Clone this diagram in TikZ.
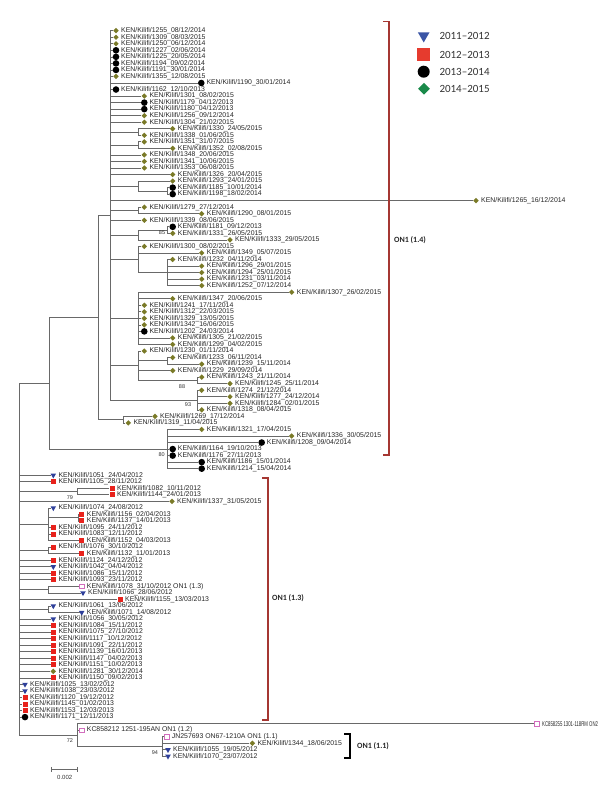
\documentclass[tikz,border=0pt]{standalone}
\usepackage{fontspec}
\setmainfont{Liberation Sans}
\newfontfamily\legfont{Carlito}
\usetikzlibrary{shapes.geometric,calc}
\definecolor{olv}{RGB}{122,122,40}
\definecolor{rsq}{RGB}{232,34,28}
\definecolor{btri}{RGB}{46,63,154}
\definecolor{pnk}{RGB}{210,110,190}
\definecolor{brk}{RGB}{165,55,50}
\definecolor{lgreen}{RGB}{26,138,74}
\definecolor{lblue}{RGB}{58,85,165}
\definecolor{lred}{RGB}{230,59,46}
\definecolor{brc}{RGB}{105,105,105}
\newcommand\ry[1]{30.7+6.537*#1}
\newcommand\tk[5]{\node[m#4] (t#1) at (#2,{\ry{#3}}) {}; \node[lbl] (l#1) at ([xshift=5pt]t#1.center) {KEN/Kilifi/#1\_#5};}
\newcommand\tq[5]{\node[m#4] (t#1) at (#2,{\ry{#3}}) {}; \node[lbl] (l#1) at ([xshift=5pt]t#1.center) {#5};}
\newcommand\kids[2]{\foreach \c in {#2} {\draw[br] (#1) |- (\c);}}
\begin{document}
\begin{tikzpicture}[x=1pt,y=-1pt,
 br/.style={draw=brc,line width=0.7pt},
 lbl/.style={font=\fontsize{6.9}{7}\selectfont,inner sep=0pt,anchor=west,text=black!85},
 mD/.style={diamond,fill=olv,inner sep=0pt,minimum size=5.6pt},
 mC/.style={circle,fill=black,inner sep=0pt,minimum size=6.6pt},
 mS/.style={rectangle,fill=rsq,inner sep=0pt,minimum size=5pt},
 mT/.style={regular polygon,regular polygon sides=3,shape border rotate=180,fill=btri,inner sep=0pt,minimum size=6.4pt},
 mP/.style={rectangle,draw=pnk,fill=white,line width=0.5pt,inner sep=0pt,minimum size=4.6pt},
 bs/.style={font=\fontsize{5.5}{6}\selectfont,inner sep=0pt,text=black!80},
 bk/.style={draw=brk,line width=1.1pt},
 cl/.style={font={\legfont\fontsize{8}{9}\selectfont\bfseries},inner sep=0pt,anchor=west,text=black!85},
 lg/.style={font={\legfont\fontsize{11}{12}\selectfont},inner sep=0pt,anchor=west,text=black!80}]
\useasboundingbox (0,0) rectangle (600,788);
% ---- tips ON1 (1.4)
\tk{1255}{116}{0}{D}{08/12/2014}
\tk{1309}{116}{1}{D}{08/03/2015}
\tk{1250}{116}{2}{D}{06/12/2014}
\tk{1227}{116}{3}{C}{02/06/2014}
\tk{1225}{116}{4}{C}{20/05/2014}
\tk{1194}{116}{5}{C}{09/02/2014}
\tk{1191}{116}{6}{C}{30/01/2014}
\tk{1355}{116}{7}{D}{12/08/2015}
\tk{1190}{201.3}{8}{C}{30/01/2014}
\tk{1162}{116}{9}{C}{12/10/2013}
\tk{1301}{144.3}{10}{D}{08/02/2015}
\tk{1179}{144.3}{11}{C}{04/12/2013}
\tk{1180}{144.3}{12}{C}{04/12/2013}
\tk{1256}{144.3}{13}{D}{09/12/2014}
\tk{1304}{144.3}{14}{D}{21/02/2015}
\tk{1330}{172.7}{15}{D}{24/05/2015}
\tk{1338}{144.3}{16}{D}{01/06/2015}
\tk{1351}{144.3}{17}{D}{31/07/2015}
\tk{1352}{172.7}{18}{D}{02/08/2015}
\tk{1348}{144.3}{19}{D}{20/06/2015}
\tk{1341}{144.3}{20}{D}{10/06/2015}
\tk{1353}{144.3}{21}{D}{06/08/2015}
\tk{1326}{172.7}{22}{D}{20/04/2015}
\tk{1293}{172.7}{23}{D}{24/01/2015}
\tk{1185}{172.7}{24}{C}{10/01/2014}
\tk{1198}{172.7}{25}{C}{18/02/2014}
\tk{1265}{476}{26}{D}{16/12/2014}
\tk{1279}{144.3}{27}{D}{27/12/2014}
\tk{1290}{201.7}{28}{D}{08/01/2015}
\tk{1339}{144.3}{29}{D}{08/06/2015}
\tk{1181}{172.7}{30}{C}{09/12/2013}
\tk{1331}{172.7}{31}{D}{26/05/2015}
\tk{1333}{230}{32}{D}{29/05/2015}
\tk{1300}{144.3}{33}{D}{08/02/2015}
\tk{1349}{201.7}{34}{D}{05/07/2015}
\tk{1232}{172.7}{35}{D}{04/11/2014}
\tk{1296}{201.7}{36}{D}{29/01/2015}
\tk{1294}{201.7}{37}{D}{25/01/2015}
\tk{1231}{201.7}{38}{D}{03/11/2014}
\tk{1252}{201.7}{39}{D}{07/12/2014}
\tk{1307}{291.7}{40}{D}{26/02/2015}
\tk{1347}{172.7}{41}{D}{20/06/2015}
\tk{1241}{144.3}{42}{D}{17/11/2014}
\tk{1312}{144.3}{43}{D}{22/03/2015}
\tk{1329}{144.3}{44}{D}{13/05/2015}
\tk{1342}{144.3}{45}{D}{16/06/2015}
\tk{1202}{144.3}{46}{C}{24/03/2014}
\tk{1305}{172.7}{47}{D}{21/02/2015}
\tk{1299}{172.7}{48}{D}{04/02/2015}
\tk{1230}{144.3}{49}{D}{01/11/2014}
\tk{1233}{172.7}{50}{D}{06/11/2014}
\tk{1239}{201.7}{51}{D}{15/11/2014}
\tk{1229}{172.7}{52}{D}{29/09/2014}
\tk{1243}{201.7}{53}{D}{21/11/2014}
\tk{1245}{230}{54}{D}{25/11/2014}
\tk{1274}{201.7}{55}{D}{21/12/2014}
\tk{1277}{230}{56}{D}{24/12/2014}
\tk{1284}{230}{57}{D}{02/01/2015}
\tk{1318}{201.7}{58}{D}{08/04/2015}
\tk{1269}{155}{59}{D}{17/12/2014}
\tk{1319}{128.3}{60}{D}{11/04/2015}
\tk{1321}{201.7}{61}{D}{17/04/2015}
\tk{1336}{291.7}{62}{D}{30/05/2015}
\tk{1208}{261.7}{63}{C}{09/04/2014}
\tk{1164}{172.7}{64}{C}{19/10/2013}
\tk{1176}{172.7}{65}{C}{27/11/2013}
\tk{1186}{201.7}{66}{C}{15/01/2014}
\tk{1214}{201.7}{67}{C}{15/04/2014}
% ---- tips ON1 (1.3)
\tk{1051}{53.3}{68}{T}{24/04/2012}
\tk{1105}{53.3}{69}{S}{28/11/2012}
\tk{1082}{112}{70}{S}{10/11/2012}
\tk{1144}{112}{71}{S}{24/01/2013}
\tk{1337}{172}{72}{D}{31/05/2015}
\tk{1074}{53.3}{73}{T}{24/08/2012}
\tk{1156}{81.7}{74}{S}{02/04/2013}
\tk{1137}{81.7}{75}{S}{14/01/2013}
\tk{1095}{53.3}{76}{S}{24/11/2012}
\tk{1083}{53.3}{77}{S}{12/11/2012}
\tk{1152}{81.7}{78}{S}{04/03/2013}
\tk{1076}{53.3}{79}{S}{30/10/2012}
\tk{1132}{81.7}{80}{S}{11/01/2013}
\tk{1124}{53.3}{81}{S}{24/12/2012}
\tk{1042}{53.3}{82}{T}{04/04/2012}
\tk{1086}{53.3}{83}{S}{15/11/2012}
\tk{1093}{53.3}{84}{S}{23/11/2012}
\tq{1078}{81.7}{85}{P}{KEN/Kilifi/1078\_31/10/2012 ON1 (1.3)}
\tk{1066}{83}{86}{T}{28/06/2012}
\tk{1155}{120}{87}{S}{13/03/2013}
\tk{1061}{53.3}{88}{T}{13/06/2012}
\tk{1071}{81.7}{89}{T}{14/08/2012}
\tk{1056}{53.3}{90}{T}{30/05/2012}
\tk{1084}{53.3}{91}{S}{15/11/2012}
\tk{1075}{53.3}{92}{S}{27/10/2012}
\tk{1117}{53.3}{93}{S}{10/12/2012}
\tk{1091}{53.3}{94}{S}{22/11/2012}
\tk{1139}{53.3}{95}{S}{16/01/2013}
\tk{1147}{53.3}{96}{S}{04/02/2013}
\tk{1151}{53.3}{97}{S}{10/02/2013}
\tk{1281}{53.3}{98}{D}{30/12/2014}
\tk{1150}{53.3}{99}{S}{09/02/2013}
\tk{1025}{25}{100}{T}{13/02/2012}
\tk{1038}{25}{101}{T}{23/03/2012}
\tk{1120}{25}{102}{S}{19/12/2012}
\tk{1145}{25}{103}{S}{01/02/2013}
\tk{1153}{25}{104}{S}{12/03/2013}
\tk{1171}{25}{105}{C}{12/11/2013}
% ---- references and ON1 (1.1)
\tq{ON2}{537}{106}{P}{\scalebox{0.62}[1]{KC858255 1301-118RM ON2}}
\tq{KC}{81.7}{107}{P}{KC858212 1251-195AN ON1 (1.2)}
\tq{JN}{166.7}{108}{P}{JN257693 ON67-1210A ON1 (1.1)}
\tk{1344}{252.3}{109}{D}{18/06/2015}
\tk{1055}{168}{110}{T}{19/05/2012}
\tk{1070}{168}{111}{T}{23/07/2012}
% ---- internal nodes
\coordinate (N1) at (110,{\ry{28.25}});
\coordinate (n1330) at (138,{\ry{15.5}});
\coordinate (n1351) at (138,{\ry{17.5}});
\coordinate (n1185) at (167,{\ry{24.5}});
\coordinate (n1293) at (138,{\ry{23.75}});
\coordinate (n1279) at (138,{\ry{27.5}});
\coordinate (nB) at (167,{\ry{30.5}});
\coordinate (nA) at (138,{\ry{31.25}});
\coordinate (nJ) at (167,{\ry{37}});
\coordinate (nH) at (138,{\ry{35}});
\coordinate (nL) at (138,{\ry{44}});
\coordinate (n1233) at (167,{\ry{50.5}});
\coordinate (n1243) at (197,{\ry{53.5}});
\coordinate (nM) at (138,{\ry{51.25}});
\coordinate (nD) at (197,{\ry{56.5}});
\coordinate (nP) at (123,{\ry{59.5}});
\coordinate (N2) at (98,{\ry{43.875}});
\coordinate (nQ) at (167,{\ry{64}});
\coordinate (N3) at (49,{\ry{53.9375}});
\coordinate (n1082) at (77,{\ry{70.5}});
\coordinate (n1074) at (48,{\ry{75.5}});
\coordinate (n1156) at (78,{\ry{74.5}});
\coordinate (n1076) at (48,{\ry{79.5}});
\coordinate (n1078) at (48,{\ry{85.5}});
\coordinate (n1061) at (48,{\ry{88.5}});
\coordinate (nV) at (162,{\ry{109.5}});
\coordinate (R72) at (77,{\ry{107.75}});
\coordinate (root) at (19,{\ry{80.84}});
% ---- branches
\kids{N1}{t1255,t1309,t1250,t1227,t1225,t1194,t1191,t1355,t1190,t1162,t1301,t1179,t1180,t1256,t1304,n1330,n1351,t1348,t1341,t1353,t1326,n1293,t1265,n1279,t1339,nA,nH,nL,nM,nD}
\kids{n1330}{t1330,t1338}
\kids{n1351}{t1351,t1352}
\kids{n1293}{t1293,n1185}
\kids{n1185}{t1185,t1198}
\kids{n1279}{t1279,t1290}
\kids{nA}{nB,t1333}
\kids{nB}{t1181,t1331}
\kids{nH}{t1300,t1349,nJ}
\kids{nJ}{t1232,t1296,t1294,t1231,t1252}
\kids{nL}{t1307,t1347,t1241,t1312,t1329,t1342,t1202,t1305,t1299}
\kids{nM}{t1230,n1233,t1229,n1243}
\kids{n1233}{t1233,t1239}
\kids{n1243}{t1243,t1245}
\kids{nD}{t1274,t1277,t1284,t1318}
\kids{N2}{N1,nP}
\kids{nP}{t1269,t1319}
\kids{N3}{N2,nQ}
\kids{nQ}{t1321,t1336,t1208,t1164,t1176,t1186,t1214}
\kids{root}{N3,t1051,t1105,n1082,t1337,n1074,n1076,t1124,t1042,t1086,t1093,n1078,t1155,n1061,t1056,t1084,t1075,t1117,t1091,t1139,t1147,t1151,t1281,t1150,t1025,t1038,t1120,t1145,t1153,t1171,R72}
\kids{n1082}{t1082,t1144}
\kids{n1074}{t1074,n1156,t1095,t1083,t1152}
\kids{n1156}{t1156,t1137}
\kids{n1076}{t1076,t1132}
\kids{n1078}{t1078,t1066}
\kids{n1061}{t1061,t1071}
\kids{R72}{tON2,tKC,nV}
\kids{nV}{tJN,t1344,t1055,t1070}
% ---- bootstrap values
\node[bs] (b85) at (162,232.7) {85};
\node[bs] (b88) at (182,387) {88};
\node[bs] (b93) at (188,405) {93};
\node[bs] (b80) at (161.7,455) {80};
\node[bs] (b79) at (70,498) {79};
\node[bs] (b72) at (70,741) {72};
\node[bs] (b94) at (155,753) {94};
% ---- clade brackets
\draw[bk] (383,21.7) -- (389,21.7) -- (389,455) -- (383,455);
\node[cl] (c14) at (394,240) {ON1 (1.4)};
\draw[bk] (262,478) -- (268,478) -- (268,720) -- (262,720);
\node[cl] (c13) at (272,598) {ON1 (1.3)};
\draw[draw=black,line width=1.1pt] (344,734) -- (350,734) -- (350,758) -- (344,758);
\node[cl] (c11) at (357,746) {ON1 (1.1)};
% ---- scale bar
\coordinate (sb1) at (51.7,769.3);
\coordinate (sb2) at (77.7,769.3);
\draw[br] (sb1) -- (sb2);
\draw[br] ([yshift=2.5pt]sb1) -- ([yshift=-2.5pt]sb1);
\draw[br] ([yshift=2.5pt]sb2) -- ([yshift=-2.5pt]sb2);
\node[bs,font=\fontsize{6}{7}\selectfont] (sbl) at (64.7,777) {0.002};
% ---- legend
\node[regular polygon,regular polygon sides=3,shape border rotate=180,fill=lblue,inner sep=0pt,minimum size=13.5pt] (g1) at (423.7,35.7) {};
\node[rectangle,fill=lred,inner sep=0pt,minimum size=12.5pt] (g2) at (423.7,54.7) {};
\node[circle,fill=black,inner sep=0pt,minimum size=12pt] (g3) at (423.7,71.7) {};
\node[diamond,fill=lgreen,inner sep=0pt,minimum size=12pt] (g4) at (424,88.8) {};
\node[lg] (g1t) at (439.3,36) {2011–2012};
\node[lg] (g2t) at (439.3,54.5) {2012–2013};
\node[lg] (g3t) at (439.3,71.5) {2013–2014};
\node[lg] (g4t) at (439.3,89.2) {2014–2015};
\end{tikzpicture}
\end{document}
